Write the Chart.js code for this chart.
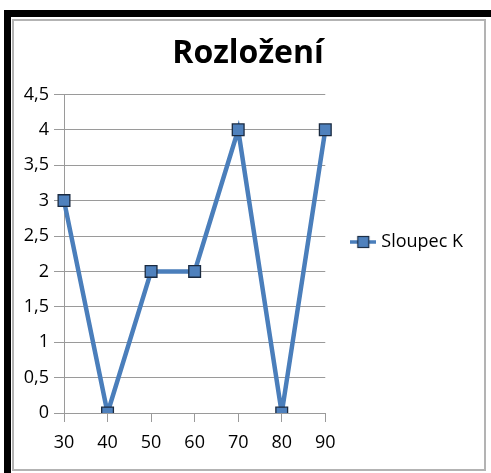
<!DOCTYPE html>
<html>
<head>
<meta charset="utf-8">
<script src="https://cdn.jsdelivr.net/npm/chart.js@4/dist/chart.umd.min.js"></script>
<style>
  body { margin: 0; background: #fff; width: 491px; height: 473px; overflow: hidden; position: relative; }
  #blackFrame { position: absolute; left: 4px; top: 10px; right: 0; bottom: 0; border-top: 7px solid #000; border-left: 7px solid #000; }
  #greyFrame { position: absolute; left: 12px; top: 19px; width: 470px; height: 448px; border: 2px solid #b3b3b3; background: #fff; }
  #wrap { position: absolute; left: 0; top: 0; width: 470px; height: 448px; }
</style>
</head>
<body>
<div id="blackFrame"></div>
<div id="greyFrame"><div id="wrap"><canvas id="chart"></canvas></div></div>
<script>
var categories = ['30', '40', '50', '60', '70', '80', '90'];
var sloupecK = [3, 0, 2, 2, 4, 0, 4];
var seriesName = 'Sloupec K';
var chartTitle = 'Rozložení';

var fontName = "'Open Sans', sans-serif";
var gridGrey = '#9a9a9a';

// legend symbol: line with a square marker, like the office chart
var legendMark = document.createElement('canvas');
legendMark.width = 26;
legendMark.height = 14;
var lctx = legendMark.getContext('2d');
lctx.strokeStyle = '#4a7ebb';
lctx.lineWidth = 3.5;
lctx.beginPath();
lctx.moveTo(0, 7);
lctx.lineTo(26, 7);
lctx.stroke();
lctx.fillStyle = '#4f81bd';
lctx.fillRect(7.5, 1.5, 11, 11);
lctx.strokeStyle = '#1c2f47';
lctx.lineWidth = 1.2;
lctx.strokeRect(7.5, 1.5, 11, 11);

var ctx = document.getElementById('chart').getContext('2d');
new Chart(ctx, {
  type: 'line',
  data: {
    labels: categories,
    datasets: [{
      label: seriesName,
      data: sloupecK,
      borderColor: '#4a7ebb',
      borderWidth: 4.5,
      pointStyle: 'rect',
      pointRadius: 8.3,
      pointHoverRadius: 8.3,
      pointBackgroundColor: '#4f81bd',
      pointBorderColor: '#1a2a40',
      pointBorderWidth: 1.3,
      tension: 0,
      fill: false
    }]
  },
  options: {
    responsive: true,
    maintainAspectRatio: false,
    animation: false,
    layout: { padding: { top: 0, bottom: 6, left: 9, right: 11 } },
    scales: {
      x: {
        offset: false,
        grid: { drawOnChartArea: false, drawTicks: true, tickLength: 9, color: gridGrey },
        border: { color: gridGrey },
        ticks: { color: '#000', font: { family: fontName, size: 18 }, padding: 10, maxRotation: 0 },
        afterFit: function(s) { s.height = 50; }
      },
      y: {
        min: 0,
        max: 4.5,
        ticks: {
          stepSize: 0.5,
          color: '#000',
          font: { family: fontName, size: 18 },
          padding: 5,
          callback: function(v) { return String(v).replace('.', ','); }
        },
        grid: { color: gridGrey, tickLength: 10 },
        border: { color: gridGrey },
        afterFit: function(s) { s.width = 41; }
      }
    },
    plugins: {
      title: {
        display: true,
        text: chartTitle,
        color: '#000',
        font: { family: fontName, size: 32, weight: 'bold' },
        padding: { top: 14, bottom: 21 }
      },
      legend: {
        position: 'right',
        maxWidth: 220,
        labels: {
          usePointStyle: true,
          pointStyle: legendMark,
          pointStyleWidth: 18,
          padding: 29,
          color: '#000',
          font: { family: fontName, size: 18 }
        }
      },
      tooltip: { enabled: false }
    }
  }
});
</script>
</body>
</html>
